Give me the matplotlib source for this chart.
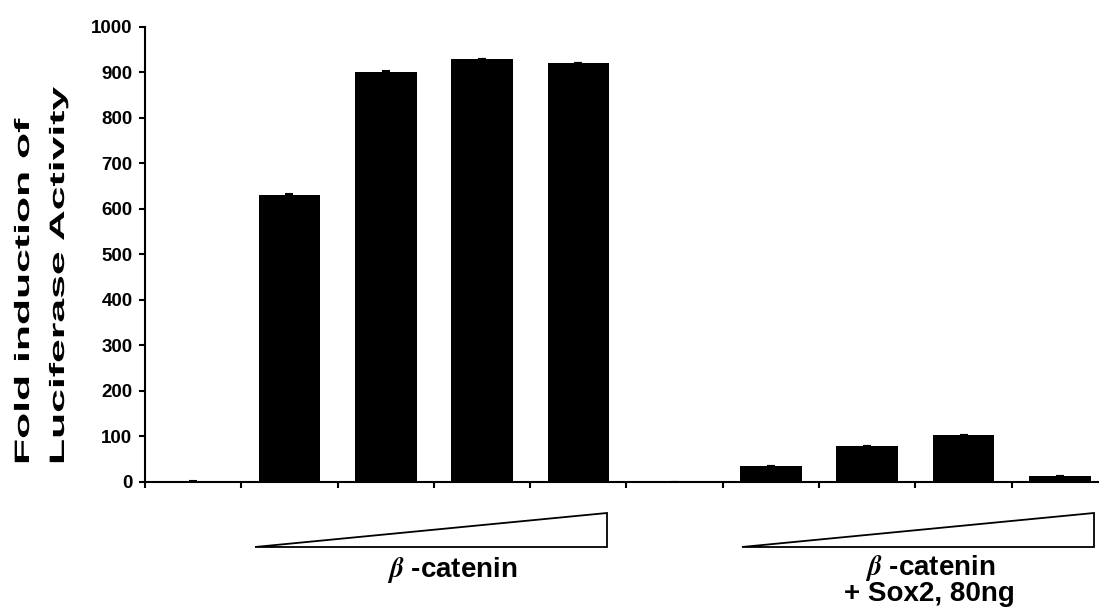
#Bar chart of fold induction of luciferase activity, beta-catenin with and without Sox2.
import matplotlib
matplotlib.use('Agg')
import matplotlib.pyplot as plt
from matplotlib.patches import Polygon
from matplotlib.patheffects import AbstractPathEffect
from matplotlib.transforms import Affine2D

#Values (10 lanes, lane 0 and 5 are controls).
lanes = list(range(10))
fold = [1, 630, 901, 930, 921, 0, 35, 78, 102, 13]
errs = [1, 2, 2, 0, 0, 0, 0, 0, 0, 0]
yticks = [0, 100, 200, 300, 400, 500, 600, 700, 800, 900, 1000]
ylabel_lines = ['Fold induction of', 'Luciferase Activity']
group_labels = [r'$\beta$ -catenin', r'$\beta$ -catenin' + '\n+ Sox2, 80ng']

plt.rcParams['font.family'] = ['Liberation Sans', 'DejaVu Sans']
plt.rcParams['font.weight'] = 'bold'
plt.rcParams['mathtext.fontset'] = 'stix'


#The axis title of the original is stretched along its length.
class Stretch(AbstractPathEffect):
    def __init__(self, sx):
        super().__init__()
        self.sx = sx

    def draw_path(self, renderer, gc, tpath, affine, rgbFace=None):
        renderer.draw_path(gc, tpath, Affine2D().scale(self.sx, 1) + affine, rgbFace)


fig = plt.figure(figsize=(10.99, 6.14), dpi=100)
ax = fig.add_axes([145 / 1099, (614 - 481.7) / 614, 954 / 1099, 455 / 614])

ax.bar(lanes, fold, width=0.64, color='black', yerr=errs, capsize=3,
       error_kw={'elinewidth': 1, 'capthick': 1.5, 'ecolor': 'black'})

ax.set_xlim(-0.5, 9.407)
ax.set_ylim(0, 1000)
ax.set_yticks(yticks)
ax.set_xticks([i - 0.5 for i in lanes])
ax.set_xticklabels([])
ax.tick_params(axis='y', direction='out', length=4, width=1.5, pad=5, labelsize=13.5)
ax.tick_params(axis='x', direction='out', length=4, width=1.5)
for t in ax.get_yticklabels():
    t.set_fontweight('bold')
for s in ['top', 'right']:
    ax.spines[s].set_visible(False)
for s in ['left', 'bottom']:
    ax.spines[s].set_linewidth(1.5)

#Y axis title, two lines, bottom aligned.
for xpix, line in zip([29, 64], ylabel_lines):
    fig.text(xpix / 1099, (614 - 465) / 614, line, rotation=90, rotation_mode='anchor',
             ha='left', va='baseline', fontsize=15, fontweight='bold',
             path_effects=[Stretch(2.05)])

#Increasing-dose wedges under each group.
for x0, x1 in [(0.647, 4.30), (5.70, 9.35)]:
    tri = Polygon([(x0, -143.5), (x1, -143.5), (x1, -68.8)], closed=True,
                  facecolor='white', edgecolor='black', lw=1.3, clip_on=False)
    ax.add_patch(tri)

ax.text(2.69, -209.5, group_labels[0], ha='center', va='baseline',
        fontsize=20, fontweight='bold', clip_on=False)
ax.text(7.65, -262, group_labels[1], ha='center', va='baseline',
        fontsize=20, fontweight='bold', linespacing=0.92, clip_on=False)

plt.savefig('out.png', dpi=100)
